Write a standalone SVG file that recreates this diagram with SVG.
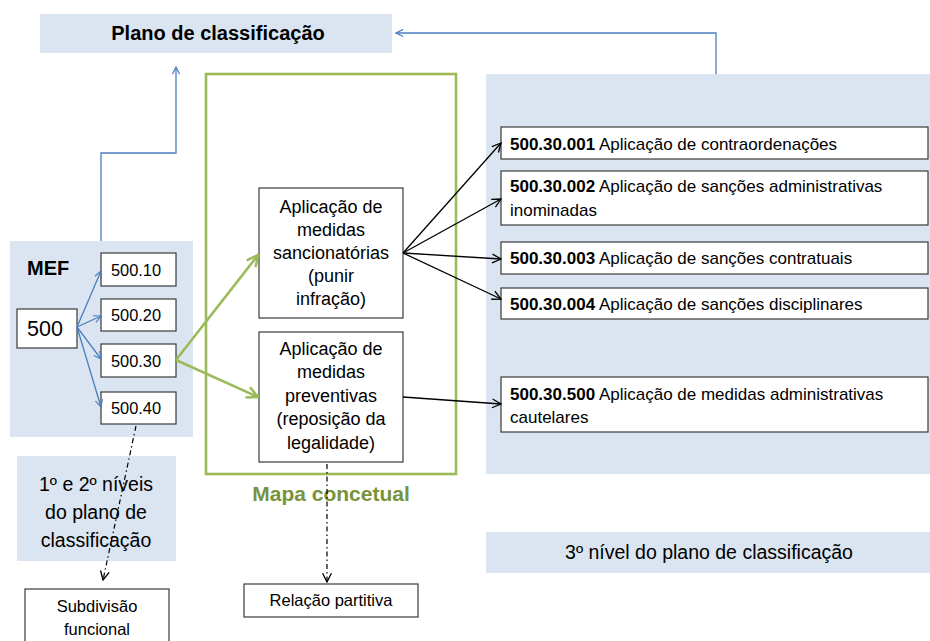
<svg xmlns="http://www.w3.org/2000/svg" width="930" height="641" viewBox="0 0 930 641">
<style>
text{font-family:"Liberation Sans",Arial,sans-serif;fill:#000}
.panel{fill:#dbe5f1}
.box{fill:#fff;stroke:#3a3a3a;stroke-width:1.2}
.blue{fill:none;stroke:#4a7ebb;stroke-width:1.3}
.green{fill:none;stroke:#9bbb59;stroke-width:2.6}
.black{fill:none;stroke:#000;stroke-width:1.3}
.dash{fill:none;stroke:#000;stroke-width:1.2;stroke-dasharray:5 3 1.5 3}
.c{text-anchor:middle}
.mid{font-size:18px}
.rt{font-size:17px}
</style>
<defs>
<marker id="ab" viewBox="0 0 10 10" refX="9" refY="5" markerWidth="9" markerHeight="9" markerUnits="userSpaceOnUse" orient="auto"><path d="M1,1 L9,5 L1,9" fill="none" stroke="#4a7ebb" stroke-width="1.3"/></marker>
<marker id="ak" viewBox="0 0 10 10" refX="9" refY="5" markerWidth="11" markerHeight="11" markerUnits="userSpaceOnUse" orient="auto"><path d="M1,1 L9,5 L1,9" fill="none" stroke="#000" stroke-width="1.2"/></marker>
<marker id="ag" viewBox="0 0 10 10" refX="9" refY="5" markerWidth="14" markerHeight="14" markerUnits="userSpaceOnUse" orient="auto"><path d="M1,1 L9,5 L1,9" fill="none" stroke="#9bbb59" stroke-width="1.8"/></marker>
</defs>

<g id="plano">
<rect class="panel" x="40" y="14" width="352" height="39"/>
<text x="218" y="40" class="c" font-size="20" font-weight="bold">Plano de classificação</text>
</g>

<g id="mef">
<rect class="panel" x="10" y="241" width="183" height="196"/>
<text x="27" y="275" font-size="20" font-weight="bold">MEF</text>
</g>

<g id="niveis12">
<rect class="panel" x="17" y="456" width="159" height="105"/>
<text x="96" y="491" class="c" font-size="19.5">1º e 2º níveis</text>
<text x="96" y="519" class="c" font-size="19.5">do plano de</text>
<text x="96" y="547" class="c" font-size="19.5">classificação</text>
</g>

<g id="painel3">
<rect class="panel" x="486" y="74" width="444" height="400"/>
</g>

<g id="nivel3">
<rect class="panel" x="486" y="532" width="444" height="41"/>
<text x="709" y="559" class="c" font-size="19.5">3º nível do plano de classificação</text>
</g>

<g id="mapa">
<rect class="green" x="206" y="74" width="250" height="400"/>
<text x="331" y="501" class="c" font-size="21" font-weight="bold" style="fill:#77933c">Mapa concetual</text>
</g>

<g id="n500">
<rect class="box" x="17" y="309" width="60" height="39"/>
<text x="45" y="336" class="c" font-size="21.5">500</text>
</g>
<g id="n500-10">
<rect class="box" x="101" y="253" width="75" height="33"/>
<text x="136" y="276" class="c" font-size="16.4">500.10</text>
</g>
<g id="n500-20">
<rect class="box" x="101" y="299" width="75" height="32"/>
<text x="136" y="321" class="c" font-size="16.4">500.20</text>
</g>
<g id="n500-30">
<rect class="box" x="101" y="344" width="75" height="33"/>
<text x="136" y="367" class="c" font-size="16.4">500.30</text>
</g>
<g id="n500-40">
<rect class="box" x="101" y="392" width="75" height="32"/>
<text x="136" y="414" class="c" font-size="16.4">500.40</text>
</g>

<g id="sancionatorias">
<rect class="box" x="259" y="188" width="144" height="130"/>
<text class="c mid" x="331" y="213">Aplicação de</text>
<text class="c mid" x="331" y="236">medidas</text>
<text class="c mid" x="331" y="259">sancionatórias</text>
<text class="c mid" x="331" y="282">(punir</text>
<text class="c mid" x="331" y="305">infração)</text>
</g>

<g id="preventivas">
<rect class="box" x="259" y="332" width="144" height="130"/>
<text class="c mid" x="331" y="355">Aplicação de</text>
<text class="c mid" x="331" y="378">medidas</text>
<text class="c mid" x="331" y="402">preventivas</text>
<text class="c mid" x="331" y="425">(reposição da</text>
<text class="c mid" x="331" y="449">legalidade)</text>
</g>

<g id="c001">
<rect class="box" x="501" y="127" width="427" height="32"/>
<text class="rt" x="510" y="150"><tspan font-weight="bold">500.30.001</tspan> Aplicação de contraordenações</text>
</g>
<g id="c002">
<rect class="box" x="501" y="171" width="427" height="54"/>
<text class="rt" x="510" y="192"><tspan font-weight="bold">500.30.002</tspan> Aplicação de sanções administrativas</text>
<text class="rt" x="510" y="216">inominadas</text>
</g>
<g id="c003">
<rect class="box" x="501" y="242" width="427" height="32"/>
<text class="rt" x="510" y="264"><tspan font-weight="bold">500.30.003</tspan> Aplicação de sanções contratuais</text>
</g>
<g id="c004">
<rect class="box" x="501" y="288" width="427" height="31"/>
<text class="rt" x="510" y="310"><tspan font-weight="bold">500.30.004</tspan> Aplicação de sanções disciplinares</text>
</g>
<g id="c500">
<rect class="box" x="501" y="377" width="427" height="55"/>
<text class="rt" x="510" y="400"><tspan font-weight="bold">500.30.500</tspan> Aplicação de medidas administrativas</text>
<text class="rt" x="510" y="423">cautelares</text>
</g>

<g id="subdivisao">
<rect class="box" x="25" y="589" width="144" height="60"/>
<text x="97" y="612" class="c" font-size="16.5">Subdivisão</text>
<text x="97" y="635" class="c" font-size="16.5">funcional</text>
</g>

<g id="relacao">
<rect class="box" x="244" y="584" width="174" height="33"/>
<text x="331" y="606" class="c" font-size="16.5">Relação partitiva</text>
</g>

<g id="connectors">
<path class="blue" d="M101,241 V153 H176 V67" marker-end="url(#ab)"/>
<path class="blue" d="M716,74 V33 H396" marker-end="url(#ab)"/>
<line class="blue" x1="77" y1="327" x2="101" y2="271" marker-end="url(#ab)"/>
<line class="blue" x1="77" y1="327" x2="101" y2="316" marker-end="url(#ab)"/>
<line class="blue" x1="77" y1="327" x2="101" y2="359" marker-end="url(#ab)"/>
<line class="blue" x1="77" y1="327" x2="101" y2="407" marker-end="url(#ab)"/>
<line class="green" x1="176" y1="360" x2="258" y2="255" marker-end="url(#ag)"/>
<line class="green" x1="176" y1="360" x2="258" y2="397" marker-end="url(#ag)"/>
<line class="black" x1="403" y1="253" x2="501" y2="143" marker-end="url(#ak)"/>
<line class="black" x1="403" y1="253" x2="501" y2="199" marker-end="url(#ak)"/>
<line class="black" x1="403" y1="253" x2="501" y2="259" marker-end="url(#ak)"/>
<line class="black" x1="403" y1="253" x2="501" y2="299" marker-end="url(#ak)"/>
<line class="black" x1="403" y1="397" x2="501" y2="404" marker-end="url(#ak)"/>
<line class="dash" x1="136" y1="426" x2="103" y2="580" marker-end="url(#ak)"/>
<line class="dash" x1="327" y1="464" x2="327" y2="582" marker-end="url(#ak)"/>
</g>
</svg>
